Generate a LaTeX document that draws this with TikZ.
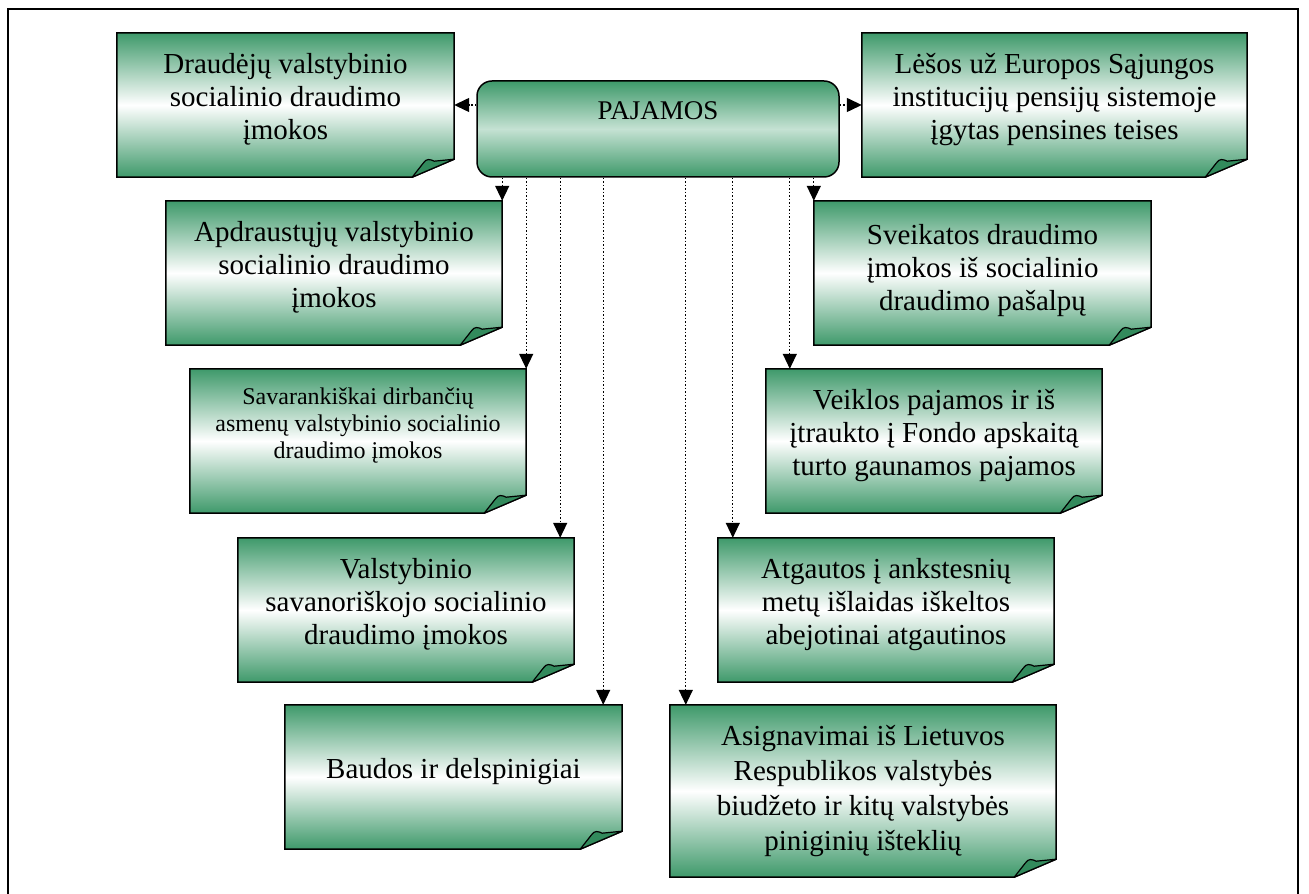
\documentclass[tikz,border=0pt]{standalone}
\usepackage{fontspec}
\setmainfont{Liberation Serif}
\usetikzlibrary{arrows.meta,calc,backgrounds}
\definecolor{pajGreen}{RGB}{62,153,106}
\definecolor{pajPale}{RGB}{197,226,211}
\definecolor{foldGreen}{RGB}{50,138,92}
\newcommand{\NoteDrop}{18pt}
\tikzset{
  notedrop/.code={\def\NoteDrop{#1}},
  notebox/.style={minimum width=336pt, minimum height=144pt, inner sep=2pt, align=center,
    font=\fontsize{29}{33}\selectfont, execute at end node={\rule[-\NoteDrop]{0pt}{0pt}}},
  notefill/.style={draw=black, line width=1.5pt, line join=miter, top color=pajGreen, bottom color=pajGreen, middle color=white},
  foldfill/.style={draw=black, line width=1.2pt, line join=round, fill=foldGreen},
  pajbox/.style={draw=black, line width=1.5pt, rounded corners=15pt, minimum width=362pt, minimum height=96pt,
    top color=pajGreen, bottom color=pajGreen, middle color=pajPale,
    font=\fontsize{27}{30}\selectfont, text height=19pt, text depth=37pt},
  pajarrow/.style={-{Triangle[width=14pt,length=15pt]}, line width=1.3pt, dash pattern=on 1.3pt off 2.2pt},
}

\begin{document}
\begin{tikzpicture}[x=1pt,y=1pt]
  \useasboundingbox (0,0) rectangle (1309,894);
  % outer frame, open at the bottom
  \draw[line width=1.3pt] (8,-10) -- (8,885) -- (1298,885) -- (1298,-10);

  \node[pajbox] (pajamos) at (658,765) {PAJAMOS};

  % top row
  \node[notebox, minimum width=337pt] (draud) at (285.5,789) {Draudėjų valstybinio\\socialinio draudimo\\įmokos};
  \node[notebox, minimum width=385pt] (lesos) at (1054.5,789) {Lėšos už Europos Sąjungos\\institucijų pensijų sistemoje\\įgytas pensines teises};

  % left column
  \node[notebox] (apdr) at (334,621) {Apdraustųjų valstybinio\\socialinio draudimo\\įmokos};
  \node[notebox, font=\fontsize{24}{27}\selectfont, notedrop=35pt] (savar) at (358,453) {Savarankiškai dirbančių\\asmenų valstybinio socialinio\\draudimo įmokos};
  \node[notebox] (valst) at (406,284) {Valstybinio\\savanoriškojo socialinio\\draudimo įmokos};
  \node[notebox, minimum width=337pt] (baud) at (453.5,117) {Baudos ir delspinigiai};

  % right column
  \node[notebox, minimum width=337pt, notedrop=12pt] (sveik) at (982.5,621) {Sveikatos draudimo\\įmokos iš socialinio\\draudimo pašalpų};
  \node[notebox] (veikl) at (934,453) {Veiklos pajamos ir iš\\įtraukto į Fondo apskaitą\\turto gaunamos pajamos};
  \node[notebox] (atgau) at (886,284) {Atgautos į ankstesnių\\metų išlaidas iškeltos\\abejotinai atgautinos};
  \node[notebox, minimum width=386pt, minimum height=172pt, font=\fontsize{29}{35}\selectfont, notedrop=0pt] (asign) at (863,103) {Asignavimai iš Lietuvos\\Respublikos valstybės\\biudžeto ir kitų valstybės\\piniginių išteklių};

  % sheets with a turned corner
  \begin{scope}[on background layer]
    \foreach \n in {draud,lesos,apdr,savar,valst,baud,sveik,veikl,atgau,asign}{
      \path[notefill] (\n.north west) -- (\n.north east) -- ($(\n.south east)+(0,18)$)
        -- ($(\n.south east)+(-42,0)$) -- (\n.south west) -- cycle;
      \path[foldfill] ($(\n.south east)+(-42,0)$) -- ($(\n.south east)+(-31,14)$)
        .. controls ($(\n.south east)+(-28,19)$) and ($(\n.south east)+(-24,18)$) .. ($(\n.south east)+(-20,16)$)
        -- ($(\n.south east)+(0,18)$) -- cycle;
    }
  \end{scope}

  \coordinate (valstIn) at ($(valst.north east)+(-14,0)$);
  \coordinate (baudIn) at ($(baud.north east)+(-19,0)$);
  \coordinate (asignIn) at ($(asign.north west)+(16,0)$);
  \coordinate (atgauIn) at ($(atgau.north west)+(15,0)$);
  \coordinate (veiklIn) at ($(veikl.north west)+(24,0)$);

  \draw[pajarrow] (pajamos.west |- draud.east) -- (draud.east);
  \draw[pajarrow] (pajamos.east |- lesos.west) -- (lesos.west);
  \draw[pajarrow] (pajamos.south -| apdr.north east) -- (apdr.north east);
  \draw[pajarrow] (pajamos.south -| savar.north east) -- (savar.north east);
  \draw[pajarrow] (pajamos.south -| valstIn) -- (valstIn);
  \draw[pajarrow] (pajamos.south -| baudIn) -- (baudIn);
  \draw[pajarrow] (pajamos.south -| asignIn) -- (asignIn);
  \draw[pajarrow] (pajamos.south -| atgauIn) -- (atgauIn);
  \draw[pajarrow] (pajamos.south -| veiklIn) -- (veiklIn);
  \draw[pajarrow] (pajamos.south -| sveik.north west) -- (sveik.north west);
\end{tikzpicture}
\end{document}
